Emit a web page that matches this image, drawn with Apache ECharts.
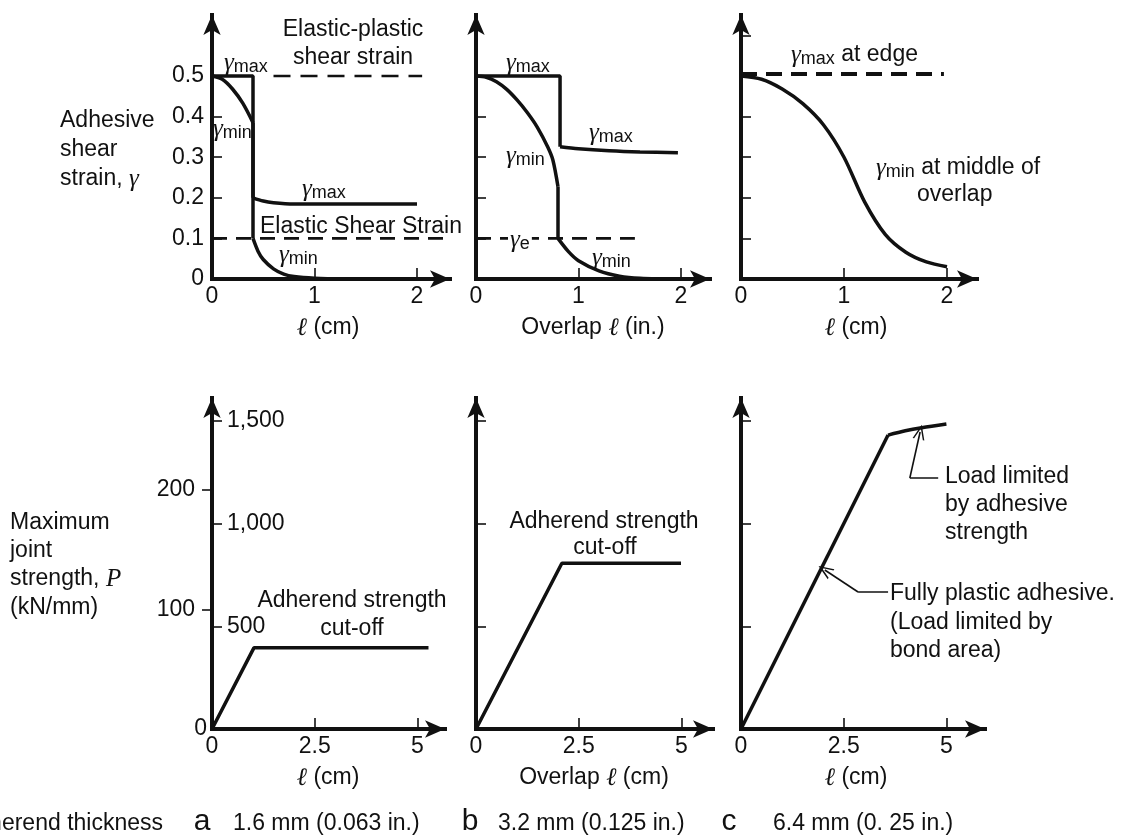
<!DOCTYPE html>
<html>
<head>
<meta charset="utf-8">
<title>Adhesive shear strain and joint strength</title>
<script src="https://cdn.jsdelivr.net/npm/echarts@6/dist/echarts.min.js"></script>
<style>
  html, body { margin: 0; padding: 0; background: #fff; }
  #main { width: 1121px; height: 838px; }
</style>
</head>
<body>
<div id="main"></div>
<script>
// ---- top row: adhesive shear strain along the overlap ----
const strainTicks = [0.1, 0.2, 0.3, 0.4, 0.5];
const strainTicksC = [0.1, 0.2, 0.3, 0.4, 0.5, 0.6];
const strainLabels = [0, 0.1, 0.2, 0.3, 0.4, 0.5];
const overlapTicks = [1, 2];
const overlapLabels = [0, 1, 2];

// a) 1.6 mm adherend
const aMaxPlateau = [[0, 0.5], [0.4, 0.5], [0.4, 0.2]];
const aMaxTail = [[0.4, 0.2], [0.5, 0.192], [0.6, 0.188], [0.8, 0.185], [2.0, 0.185]];
const aMinHead = [[0, 0.5], [0.1, 0.492], [0.2, 0.468], [0.3, 0.433], [0.4, 0.385]];
const aMinDrop = [[0.4, 0.385], [0.4, 0.1]];
const aMinTail = [[0.4, 0.1], [0.45, 0.068], [0.5, 0.048], [0.6, 0.025], [0.7, 0.012], [0.8, 0.006], [1.0, 0.002], [1.3, 0.0005], [2.0, 0]];
const aPlasticLimit = [[0.6, 0.5], [2.05, 0.5]];
const aElasticLimit = [[0, 0.1], [2.52, 0.1]];

// b) 3.2 mm adherend
const bMaxPlateau = [[0, 0.5], [0.82, 0.5], [0.82, 0.326]];
const bMaxTail = [[0.82, 0.326], [1.0, 0.321], [1.3, 0.316], [1.6, 0.313], [1.97, 0.311]];
const bMinHead = [[0, 0.5], [0.1, 0.497], [0.2, 0.486], [0.3, 0.467], [0.4, 0.441], [0.5, 0.41], [0.6, 0.373], [0.7, 0.325], [0.75, 0.293], [0.8, 0.227]];
const bMinDrop = [[0.8, 0.227], [0.8, 0.1]];
const bMinTail = [[0.8, 0.1], [0.9, 0.068], [1.0, 0.045], [1.2, 0.02], [1.4, 0.007], [1.6, 0.002], [2.0, 0]];
const bElasticLimit = [[0, 0.1], [1.55, 0.1]];

// c) 6.4 mm adherend
const cEdge = [[0, 0.505], [1.97, 0.505]];
const cMiddleX = [0, 0.2, 0.4, 0.6, 0.8, 1.0, 1.2, 1.4, 1.6, 1.8, 2.0];
const cMiddleY = [0.5, 0.492, 0.468, 0.432, 0.38, 0.3, 0.19, 0.11, 0.066, 0.042, 0.03];

// ---- bottom row: maximum joint strength ----
const lengthTicks = [2.5, 5];
const lengthLabels = [0, 2.5, 5];
const strengthTicks = [500, 1000, 1500];
const kNTicks = [100, 200];
const kNLabels = [0, 100, 200];

const aStrength = [[0, 0], [1.02, 395], [5.27, 395]];
const bStrength = [[0, 0], [2.09, 807], [4.99, 807]];
const cStrengthLinear = [[0, 0], [3.58, 1431]];
const cStrengthCap = [[3.58, 1431], [4.0, 1452], [4.4, 1467], [5.0, 1485]];
const cAdhesiveLeader = [[4.8, 1222], [4.11, 1222], [4.36, 1446]];
const cBondLeader = [[3.58, 667], [2.85, 667], [2.04, 774]];

const INK = '#111';
const FONT = '"Liberation Sans", Arial, Helvetica, sans-serif';
const SERIF = '"Liberation Serif", "DejaVu Serif", serif';
const CHEVRON = 'path://M0,0 L7,12 L5.2,12 L0,3.2 L-5.2,12 L-7,12 Z';
const RICH = {
  g: { fontStyle: 'italic', fontFamily: SERIF, fontSize: 25 },
  s: { fontSize: 18, padding: [8, 0, 0, 0] },
  i: { fontStyle: 'italic', fontFamily: SERIF, fontSize: 25 }
};

function label(x, y, text, align, extra) {
  return {
    type: 'text', x: x, y: y, z: 50, silent: true,
    style: Object.assign({
      text: text, fill: INK, fontFamily: FONT, fontSize: 23,
      align: align || 'left', verticalAlign: 'middle', rich: RICH
    }, extra || {})
  };
}

const axisLine = {
  lineStyle: { color: INK, width: 4, cap: 'square' },
  symbol: ['none', 'arrow'],
  symbolSize: [13, 20]
};
const labelFont = { color: INK, fontFamily: FONT, fontSize: 23 };

function xAxis(gridIndex, max, ticks, labels) {
  return {
    type: 'value', gridIndex: gridIndex, min: 0, max: max,
    axisLine: axisLine,
    axisTick: { inside: true, length: 11, customValues: ticks, lineStyle: { color: INK, width: 1.6 } },
    axisLabel: Object.assign({ customValues: labels, margin: 6 }, labelFont),
    splitLine: { show: false }
  };
}

function yAxis(gridIndex, max, ticks, labels, extra) {
  return Object.assign({
    type: 'value', gridIndex: gridIndex, min: 0, max: max, position: 'left',
    axisLine: axisLine,
    axisTick: { inside: true, length: 10, customValues: ticks, lineStyle: { color: INK, width: 1.6 } },
    axisLabel: Object.assign({ show: !!labels, customValues: labels || [], margin: 8 }, labelFont),
    splitLine: { show: false }
  }, extra || {});
}

function line(xi, yi, data, smooth, extra) {
  return Object.assign({
    type: 'line', xAxisIndex: xi, yAxisIndex: yi, data: data,
    symbol: 'none', smooth: smooth ? 0.3 : false,
    lineStyle: { color: INK, width: 3.5 }, silent: true, z: 3
  }, extra || {});
}

function dashed(xi, yi, data, width, dash) {
  return line(xi, yi, data, false, {
    clip: false,
    lineStyle: { color: INK, width: width, type: dash }
  });
}

function leader(xi, yi, pts) {
  return line(xi, yi, pts.slice(0, 2), false, {
    lineStyle: { color: INK, width: 1.6 },
    markLine: {
      silent: true, animation: false,
      symbol: ['none', CHEVRON], symbolSize: [12, 15],
      label: { show: false },
      lineStyle: { type: 'solid', width: 1.6, color: INK },
      data: [[{ coord: pts[1] }, { coord: pts[2] }]]
    }
  });
}

const TOP_PX = 102.5;      // px per unit of overlap, top row
const TOP_STRAIN_PX = 406; // px per unit of strain
const BOT_PX = 41.08;      // px per cm, bottom row
const BOT_LOAD_PX = 0.2054;
const BOT_KN_PX = 1.196;

const gammaMax = '{g|γ}{s|max}';
const gammaMin = '{g|γ}{s|min}';

const chart = echarts.init(document.getElementById('main'));
chart.setOption({
  animation: false,
  backgroundColor: '#fff',
  grid: [
    { left: 212, top: 15, width: 238, height: 264 },
    { left: 476, top: 15, width: 234, height: 264 },
    { left: 741, top: 15, width: 236, height: 264 },
    { left: 212, top: 398, width: 233, height: 331 },
    { left: 476, top: 398, width: 237, height: 331 },
    { left: 741, top: 398, width: 244, height: 331 }
  ],
  xAxis: [
    xAxis(0, 238 / TOP_PX, overlapTicks, overlapLabels),
    xAxis(1, 234 / TOP_PX, overlapTicks, overlapLabels),
    xAxis(2, 236 / 103, overlapTicks, overlapLabels),
    xAxis(3, 233 / BOT_PX, lengthTicks, lengthLabels),
    xAxis(4, 237 / BOT_PX, lengthTicks, lengthLabels),
    xAxis(5, 244 / BOT_PX, lengthTicks, lengthLabels)
  ],
  yAxis: [
    yAxis(0, 264 / TOP_STRAIN_PX, strainTicks, strainLabels),
    yAxis(1, 264 / TOP_STRAIN_PX, strainTicks),
    yAxis(2, 264 / TOP_STRAIN_PX, strainTicksC),
    yAxis(3, 331 / BOT_LOAD_PX, strengthTicks, strengthTicks, {
      axisLabel: Object.assign({
        inside: true, margin: 15, customValues: strengthTicks,
        formatter: function (v) { return v.toLocaleString('en-US'); }
      }, labelFont)
    }),
    yAxis(3, 331 / BOT_KN_PX, kNTicks, kNLabels, {
      axisLine: { show: false },
      axisTick: { inside: false, length: 10, customValues: kNTicks, lineStyle: { color: INK, width: 1.6 } },
      axisLabel: Object.assign({
        margin: 5, customValues: kNLabels,
        formatter: function (v) { return v === 0 ? '0' : '{p|' + v + '}'; },
        rich: { p: { padding: [0, 12, 0, 0], fontSize: 23, fontFamily: FONT, color: INK } }
      }, labelFont)
    }),
    yAxis(4, 331 / BOT_LOAD_PX, strengthTicks),
    yAxis(5, 331 / BOT_LOAD_PX, strengthTicks)
  ],
  series: [
    // a
    line(0, 0, aMaxPlateau, false),
    line(0, 0, aMaxTail, true),
    line(0, 0, aMinHead, true),
    line(0, 0, aMinDrop, false),
    line(0, 0, aMinTail, true),
    dashed(0, 0, aPlasticLimit, 2.6, [17, 10]),
    dashed(0, 0, aElasticLimit, 2.6, [15, 9]),
    // b
    line(1, 1, bMaxPlateau, false),
    line(1, 1, bMaxTail, true),
    line(1, 1, bMinHead, true),
    line(1, 1, bMinDrop, false),
    line(1, 1, bMinTail, true),
    dashed(1, 1, bElasticLimit, 2.6, [15, 9]),
    // c
    dashed(2, 2, cEdge, 4, [16, 9]),
    line(2, 2, cMiddleX.map(function (x, i) { return [x, cMiddleY[i]]; }), true),
    // strength
    line(3, 3, aStrength, false),
    line(4, 5, bStrength, false),
    line(5, 6, cStrengthLinear, false),
    line(5, 6, cStrengthCap, true),
    leader(5, 6, cAdhesiveLeader),
    leader(5, 6, cBondLeader)
  ],
  graphic: [
    label(60, 121, 'Adhesive'),
    label(60, 150, 'shear'),
    label(60, 179, 'strain, {i|γ}'),
    label(353, 30, 'Elastic-plastic', 'center'),
    label(353, 58, 'shear strain', 'center'),
    label(224, 63, gammaMax),
    label(213, 129, gammaMin),
    label(302, 189, gammaMax),
    label(260, 227, 'Elastic Shear Strain'),
    label(279, 255, gammaMin),

    label(506, 63, gammaMax),
    label(589, 133, gammaMax),
    label(506, 156, gammaMin),
    label(508, 240, '{g|γ}{s|e}', 'left', { backgroundColor: '#fff', padding: [0, 2, 0, 2] }),
    label(592, 258, gammaMin),

    label(791, 55, gammaMax + ' at edge'),
    label(876, 168, gammaMin + ' at middle of'),
    label(917, 195, 'overlap'),

    label(328, 328, '{i|ℓ} (cm)', 'center'),
    label(593, 328, 'Overlap {i|ℓ} (in.)', 'center'),
    label(856, 328, '{i|ℓ} (cm)', 'center'),

    label(10, 523, 'Maximum'),
    label(10, 551, 'joint'),
    label(10, 579, 'strength, {i|P}'),
    label(10, 608, '(kN/mm)'),

    label(352, 601, 'Adherend strength', 'center'),
    label(352, 629, 'cut-off', 'center'),
    label(604, 522, 'Adherend strength', 'center'),
    label(605, 548, 'cut-off', 'center'),
    label(945, 477, 'Load limited'),
    label(945, 505, 'by adhesive'),
    label(945, 533, 'strength'),
    label(890, 594, 'Fully plastic adhesive.'),
    label(890, 623, '(Load limited by'),
    label(890, 651, 'bond area)'),

    label(328, 778, '{i|ℓ} (cm)', 'center'),
    label(594, 778, 'Overlap {i|ℓ} (cm)', 'center'),
    label(856, 778, '{i|ℓ} (cm)', 'center'),

    label(163, 824, 'Adherend thickness', 'right'),
    label(202, 822, 'a', 'center', { fontSize: 30 }),
    label(233, 824, '1.6 mm (0.063 in.)'),
    label(470, 822, 'b', 'center', { fontSize: 30 }),
    label(498, 824, '3.2 mm (0.125 in.)'),
    label(729, 822, 'c', 'center', { fontSize: 30 }),
    label(773, 824, '6.4 mm (0. 25 in.)')
  ]
});
</script>
</body>
</html>
